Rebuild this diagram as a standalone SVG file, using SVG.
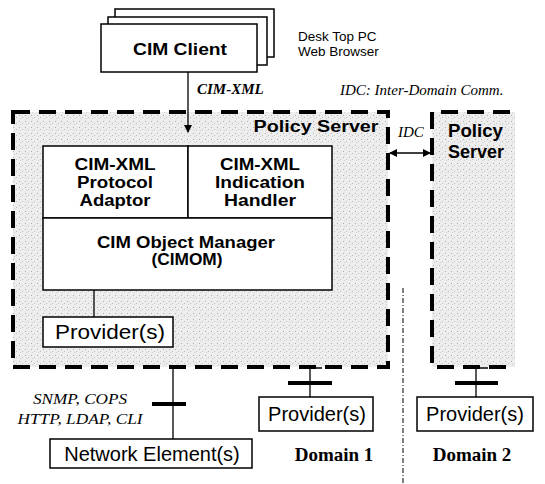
<svg xmlns="http://www.w3.org/2000/svg" width="545" height="484" viewBox="0 0 545 484">
<defs>
<style>
.box{fill:#fff;stroke:#000;stroke-width:1.5}
.dash{fill:none;stroke:#000;stroke-width:4;stroke-dasharray:17 9}
.ln{stroke:#000;stroke-width:1.3;fill:none}
.bar{stroke:#000;stroke-width:4}
.sb{font-family:"Liberation Sans",Arial,sans-serif;font-weight:bold;font-size:16px;text-anchor:middle}
.s{font-family:"Liberation Sans",Arial,sans-serif;font-size:20px;text-anchor:middle}
.sm{font-family:"Liberation Sans",Arial,sans-serif;font-size:13.5px}
.it{font-family:"Liberation Serif","Times New Roman",serif;font-style:italic;font-size:15px}
.dom{font-family:"Liberation Serif","Times New Roman",serif;font-weight:bold;font-size:19px;text-anchor:middle}
</style>
<pattern id="stip" width="6" height="6" patternUnits="userSpaceOnUse">
<rect width="6" height="6" fill="#ededed"/>
<rect x="1" y="1" width="1" height="1" fill="#b0b0b0"/>
<rect x="4" y="3" width="1" height="1" fill="#c0c0c0"/>
<rect x="2" y="4" width="1" height="1" fill="#d0d0d0"/>
</pattern>
<marker id="ah" markerWidth="8" markerHeight="8" refX="7" refY="4" orient="auto-start-reverse" markerUnits="userSpaceOnUse">
<path d="M0,0 L8,4 L0,8 Z" fill="#000"/>
</marker>
</defs>

<g id="domain1-server">
<rect x="13" y="112" width="375" height="255" fill="url(#stip)"/>
<rect x="13" y="112" width="375" height="255" class="dash"/>
<text x="316" y="132" class="sb" font-size="17" textLength="125" lengthAdjust="spacingAndGlyphs">Policy Server</text>
</g>

<g id="domain2-server">
<rect x="432" y="112" width="83" height="255" fill="url(#stip)"/>
<path d="M510,112 H432 V367 H515" class="dash"/>
<text x="448" y="137" font-family="Liberation Sans,Arial,sans-serif" font-weight="bold" font-size="18" textLength="55" lengthAdjust="spacingAndGlyphs">Policy</text>
<text x="448" y="158" font-family="Liberation Sans,Arial,sans-serif" font-weight="bold" font-size="18" textLength="56" lengthAdjust="spacingAndGlyphs">Server</text>
</g>

<g id="cim-client">
<rect x="115" y="9" width="159" height="48" class="box"/>
<rect x="108" y="17" width="159" height="48" class="box"/>
<rect x="101" y="24" width="156" height="48" class="box"/>
<text x="180" y="55" class="sb" font-size="18" textLength="94" lengthAdjust="spacingAndGlyphs">CIM Client</text>
</g>

<g id="client-note">
<text x="298" y="41" class="sm">Desk Top PC</text>
<text x="298" y="56" class="sm">Web Browser</text>
</g>

<g id="idc-note">
<text x="340" y="95" class="it">IDC: Inter-Domain Comm.</text>
</g>

<g id="protocol-adaptor">
<rect x="43" y="146" width="145" height="72" class="box"/>
<text x="115" y="170" class="sb" textLength="81" lengthAdjust="spacingAndGlyphs">CIM-XML</text>
<text x="115" y="188" class="sb" textLength="76" lengthAdjust="spacingAndGlyphs">Protocol</text>
<text x="115" y="206" class="sb" textLength="71" lengthAdjust="spacingAndGlyphs">Adaptor</text>
</g>

<g id="indication-handler">
<rect x="188" y="146" width="144" height="72" class="box"/>
<text x="260" y="170" class="sb" textLength="80" lengthAdjust="spacingAndGlyphs">CIM-XML</text>
<text x="260" y="188" class="sb" textLength="90" lengthAdjust="spacingAndGlyphs">Indication</text>
<text x="260" y="206" class="sb" textLength="72" lengthAdjust="spacingAndGlyphs">Handler</text>
</g>

<g id="cimom">
<rect x="43" y="218" width="289" height="72" class="box"/>
<text x="186" y="248" class="sb" textLength="178" lengthAdjust="spacingAndGlyphs">CIM Object Manager</text>
<text x="187" y="265" class="sb" textLength="71" lengthAdjust="spacingAndGlyphs">(CIMOM)</text>
</g>

<g id="provider-internal">
<rect x="43" y="317" width="130" height="30" class="box"/>
<text x="110" y="339" class="s" textLength="110" lengthAdjust="spacingAndGlyphs">Provider(s)</text>
</g>

<g id="network-element">
<rect x="50" y="439" width="202" height="29" class="box"/>
<text x="152" y="461" class="s" font-size="19">Network Element(s)</text>
</g>

<g id="provider-domain1">
<rect x="259" y="397" width="114" height="34" class="box"/>
<text x="317" y="421" class="s">Provider(s)</text>
</g>

<g id="provider-domain2">
<rect x="417" y="397" width="116" height="34" class="box"/>
<text x="475" y="421" class="s">Provider(s)</text>
</g>

<g id="labels">
<text x="197" y="94" class="it" font-size="17" font-weight="bold">CIM-XML</text>
<text x="398" y="137" class="it" font-size="16">IDC</text>
<text x="80" y="404" class="it" font-size="18" text-anchor="middle" textLength="94" lengthAdjust="spacingAndGlyphs">SNMP, COPS</text>
<text x="80" y="424" class="it" font-size="18" text-anchor="middle" textLength="125" lengthAdjust="spacingAndGlyphs">HTTP, LDAP, CLI</text>
<text x="334" y="461" class="dom">Domain 1</text>
<text x="472" y="461" class="dom">Domain 2</text>
</g>

<g id="connectors">
<line x1="188" y1="72" x2="188" y2="132" class="ln" marker-end="url(#ah)"/>
<line x1="390" y1="153" x2="430" y2="153" class="ln" marker-start="url(#ah)" marker-end="url(#ah)"/>
<line x1="94" y1="290" x2="94" y2="317" class="ln"/>
<line x1="173" y1="367" x2="173" y2="439" class="ln"/>
<line x1="152" y1="404" x2="186" y2="404" class="bar"/>
<path d="M322,368 H310 V397" class="ln"/>
<line x1="288" y1="383" x2="332" y2="383" class="bar"/>
<path d="M488,368 H476 V397" class="ln"/>
<line x1="455" y1="383" x2="498" y2="383" class="bar"/>
<line x1="403" y1="288" x2="403" y2="484" stroke="#000" stroke-width="1" stroke-dasharray="5 2 1 2"/>
</g>
</svg>
